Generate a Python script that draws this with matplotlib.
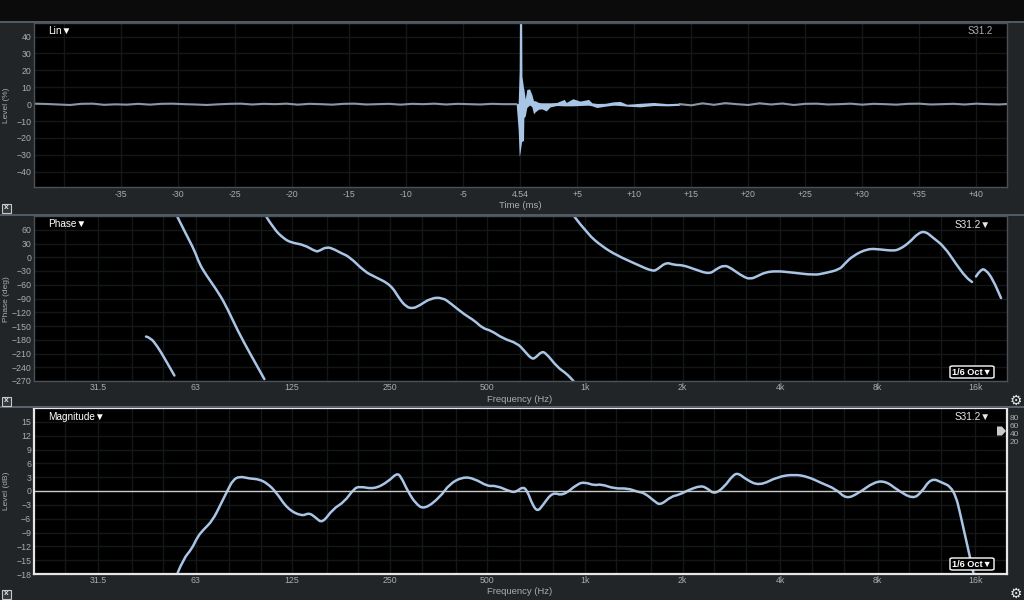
import matplotlib
matplotlib.use("Agg")
import matplotlib.pyplot as plt
from matplotlib.patches import Rectangle, FancyBboxPatch, Polygon, PathPatch
from matplotlib.path import Path

W, H = 1024, 600

# impulse, time relative to the 4.54 ms marker
imp_t = [-0.35, -0.18, -0.09, -0.06, 0, 0.12, 0.15, 0.29, 0.32, 0.44, 0.58, 0.82, 1.02, 1.17, 1.32, 1.61, 1.9,
         2.28, 2.63, 3.2, 3.86, 4.04, 4.62, 5.26, 5.99, 6.29, 6.73, 7.46, 8.19, 8.77, 9.36, 10.5, 11.7, 12.9, 14]
imp_hi = [0.3, 0.4, 20, 60, 60, 60, 16.5, 9.7, 9, 3, 8.7, 9, 5.7, 2, 2, 1, 0.8,
          0.8, 0.8, 1, 2.8, 1, 3.2, 1.8, 2.8, 0.8, 0.4, 0.5, 1.4, 1.6, -0.1, 0.5, 1, 0.3, 0.6]
imp_lo = [-0.3, -15, -30.5, -30.5, -28, -22, -22, -21.5, -8, -7, -2, -0.5, -1.5, -5.7, -4.5, -3, -2.8,
          -4, -1.6, -0.8, -1, -1, -1, -0.8, -0.6, -1, -2, -1.2, -0.6, -0.8, -1.2, -1.6, -0.8, -1, -0.7]

noise_before_t = [-42.6, -41.5, -40.5, -39.5, -38.5, -37.5, -36.5, -35.5, -34.5, -33.5, -32.5, -31.5, -30.5, -29.5,
                  -28.5, -27.5, -26.5, -25.5, -24.5, -23.5, -22.5, -21.5, -20.5, -19.5, -18.5, -17.5, -16.5, -15.5,
                  -14.5, -13.5, -12.5, -11.5, -10.5, -9.5, -8.5, -7.5, -6.5, -5.5, -4.5, -3.5, -2.5, -1.5, -0.35]
noise_before = [0.3, 0.1, -0.2, -0.5, 0.2, 0.3, -0.4, -0.1, -0.3, 0.2, -0.3, 0.2, 0.3, 0, -0.2, -0.5, -0.1,
                0.2, 0.3, -0.2, 0.2, 0, 0.3, -0.3, 0.2, 0, -0.3, 0.2, 0.3, -0.2, 0, 0.2, -0.3, 0.2, 0, 0.3,
                -0.2, 0.2, 0, -0.2, 0.2, 0, 0]
noise_after_t = [14, 15, 16, 17, 18, 19, 20, 21, 22, 23, 24, 25, 26, 27, 28, 29, 30, 31, 32, 33, 34, 35, 36, 37, 38,
                 39, 40, 41, 42, 42.7]
noise_after = [0, -0.7, 0.5, -0.4, 0.6, 0, -0.5, 0.5, -0.2, 0.4, -0.5, 0.2, 0.3, -0.2, 0, 0.3, -0.3, 0.2, 0, -0.3,
               0.2, 0.3, -0.2, 0, 0.2, -0.2, 0.3, 0, -0.2, 0.1]

# phase, wrapped pieces
ph_f1 = [44.3, 45.7, 48.1, 50.5, 52.7, 54.2]
ph_1 = [-173, -175, -195, -220, -243, -258]
ph_f2 = [55.2, 58.9, 62.5, 64.7, 67.8, 74.6, 79.1, 84.9, 93.4, 102.7]
ph_2 = [90, 50, 15, -14, -38, -80, -113, -160, -214, -266]
ph_f3 = [103.8, 110, 117.8, 124, 136.4, 148, 151.7, 160, 169, 177, 188, 209, 224, 252, 268, 281, 294, 308, 335, 364,
         386, 425, 456, 484, 514, 558, 620, 650, 687, 707, 732, 754, 825, 875, 922]
ph_3 = [90, 61, 41, 32, 27, 12, 14, 23, 17, 9, 1, -31, -42, -60, -91, -108, -112, -106, -89, -88,
        -101, -125, -138, -155, -160, -177, -188, -204, -223, -218, -207, -207, -241, -253, -270]
ph_f4 = [925, 1020, 1134, 1247, 1438, 1618, 1677, 1780, 1888, 2002, 2175, 2419, 2538, 2692, 2825, 3067, 3237, 3412,
         3594, 3886, 4322, 5100, 5470, 6090, 6310, 6697, 7453, 8178, 8899, 9326, 10010, 10630, 11190, 11830, 12840,
         13950, 14980, 15630]
ph_4 = [90, 50, 23, 5, -15, -31, -26, -11, -17, -17, -26, -37, -26, -17, -24, -42, -48, -41,
        -33, -30, -33, -39, -35, -27, -15, 3, 19, 17, 14, 17, 32, 52, 57, 43, 23,
        -15, -44, -54]
ph_f5 = [16070, 16660, 17270, 18100, 19200]
ph_5 = [-42, -25, -28, -48, -89]

mag_f = [55.5, 57.9, 61.3, 63.9, 66.6, 71.1, 75.4, 79.1, 82, 85.9, 92.2, 99, 105, 111.5, 121, 134, 141, 148, 155, 167,
         181, 194, 202, 224, 247, 263, 271, 284, 301, 320, 358, 382, 420, 456, 501, 532, 592, 613, 643, 663, 690, 715,
         741, 795, 854, 951, 1000, 1069, 1122, 1233, 1355, 1455, 1525, 1637, 1708, 1844, 1956, 2076, 2281, 2392, 2509,
         2692, 2857, 2972, 3140, 3452, 3933, 4425, 4870, 5351, 5948, 6389, 6942, 7812, 8489, 9226, 10260, 10880, 11690,
         12700, 13400, 13950, 14290, 14800, 15450, 15800]
mag_db = [-17.7, -14.6, -12.6, -9.9, -8.4, -6.4, -2.8, 0.15, 2.3, 3.2, 2.7, 2.55, 1.6, -0.2, -3.9, -5.5, -4.7, -5.8, -7,
          -3.9, -2.4, 0.5, 1, 0.4, 2, 3.9, 3.1, 0, -2.8, -4, -1.3, 1.5, 3.07, 2.7, 1, 1.2, -0.2, -0.2, 0.9, 0.15, -3.1,
          -4.45, -3.1, -0.2, -1.1, 1.6, 1.9, 1.2, 1.5, 0.5, 0.6, -0.2, -0.4, -2.2, -3.1, -1.2, -0.8, 0.15, 1.2, 0.5,
          -0.7, 0.9, 3.4, 3.9, 2.5, 1.1, 3.1, 3.6, 3.1, 1.75, 0.4, -1.7, -0.6, 2, 2.1, 0.15, -1.7, -0.4, 2.85,
          1.75, 1, -1.3, -4.2, -9, -14.8, -18]

time_ticks = [-35, -30, -25, -20, -15, -10, -5, 0, 5, 10, 15, 20, 25, 30, 35, 40]
time_labels = ["-35", "-30", "-25", "-20", "-15", "-10", "-5", "4.54", "+5", "+10", "+15", "+20", "+25", "+30", "+35", "+40"]
time_grid = [-40] + time_ticks
lin_ticks = [40, 30, 20, 10, 0, -10, -20, -30, -40]
phase_ticks = [60, 30, 0, -30, -60, -90, -120, -150, -180, -210, -240, -270]
mag_ticks = [15, 12, 9, 6, 3, 0, -3, -6, -9, -12, -15, -18]
freq_ticks = [31.5, 63, 125, 250, 500, 1000, 2000, 4000, 8000, 16000]
freq_labels = ["31.5", "63", "125", "250", "500", "1k", "2k", "4k", "8k", "16k"]
freq_grid = [25, 31.5, 40, 50, 63, 80, 100, 125, 160, 200, 250, 315, 400, 500, 630, 800, 1000, 1250, 1600, 2000,
             2500, 3150, 4000, 5000, 6300, 8000, 10000, 12500, 16000]
level_scale = ["80", "60", "40", "20"]

BG = "#212528"
GRID = "#141617"
TXT = "#a9adb0"
TRACE = "#a9c5e6"
plt.rcParams["font.family"] = ["Liberation Sans", "DejaVu Sans"]


def px_axes(fig, x0, y0, x1, y1):
    return fig.add_axes([x0 / W, 1 - y1 / H, (x1 - x0) / W, (y1 - y0) / H])


def ftext(fig, x, y, s, **kw):
    kw.setdefault("color", TXT)
    kw.setdefault("fontsize", 6.3)
    kw.setdefault("ha", "center")
    kw.setdefault("va", "center")
    fig.text(x / W, 1 - y / H, s, **kw)


def style(ax, edge="#4b5156", lw=1.0):
    ax.set_facecolor("black")
    for side, sp in ax.spines.items():
        sp.set_color(edge)
        sp.set_linewidth(lw)
    ax.tick_params(length=0, labelsize=6.3, labelcolor=TXT, pad=2)
    ax.set_axisbelow(True)


def freq_axis(ax, yticks, ylim):
    ax.set_xscale("log")
    ax.set_xlim(20, 20030)
    ax.set_ylim(*ylim)
    ax.set_xticks(freq_grid, minor=False)
    ax.set_xticklabels(["" for f in freq_grid])
    ax.minorticks_off()
    ax.set_yticks(yticks)
    ax.grid(True, color=GRID, lw=1)
    for f, lab in zip(freq_ticks, freq_labels):
        ax.annotate(lab, (f, 0), xycoords=("data", "axes fraction"), xytext=(0, -4.5), textcoords="offset points",
                    ha="center", va="center", fontsize=6.3, color=TXT, annotation_clip=False)


def smooth_trace(ax, fs, vals):
    # quadratic curve through the midpoints, the reference trace has no corners
    verts = [(fs[0], vals[0])]
    codes = [Path.MOVETO]
    for i in range(1, len(fs) - 1):
        mid = ((fs[i] * fs[i + 1]) ** 0.5, (vals[i] + vals[i + 1]) / 2)
        verts += [(fs[i], vals[i]), mid]
        codes += [Path.CURVE3, Path.CURVE3]
    verts.append((fs[-1], vals[-1]))
    codes.append(Path.LINETO)
    ax.add_patch(PathPatch(Path(verts, codes), fc="none", ec=TRACE, lw=1.8, capstyle="round", joinstyle="round"))


def oct_box(fig, y):
    fig.add_artist(FancyBboxPatch((950 / W, 1 - (y + 6) / H), 44 / W, 12 / H, boxstyle="round,pad=0,rounding_size=0.003",
                                  fc="black", ec="white", lw=1, transform=fig.transFigure, mutation_aspect=H / W))
    ftext(fig, 972, y, "1/6 Oct▼", color="white", fontsize=6.6, fontweight="bold")


def close_box(fig, y):
    fig.add_artist(Rectangle((2 / W, 1 - (y + 4.5) / H), 9 / W, 9 / H, fc="#33383c", ec="#c8c8c8", lw=0.8,
                             transform=fig.transFigure))
    ftext(fig, 6.5, y - 0.5, "x", color="#e0e0e0", fontsize=6, fontweight="bold")


fig = plt.figure(figsize=(W / 100, H / 100), dpi=100, facecolor=BG)
fig.add_artist(Rectangle((0, 1 - 21 / H), 1, 21 / H, fc="#0b0b0b", ec="none", transform=fig.transFigure))
for y in [22, 215]:
    fig.add_artist(Rectangle((0, 1 - (y + 1) / H), 1, 1.6 / H, fc="#4f5a64", ec="none", transform=fig.transFigure))
fig.add_artist(Rectangle((0, 1 - 408 / H), 1, 1.6 / H, fc="#59626a", ec="none", transform=fig.transFigure))

# impulse
ax1 = px_axes(fig, 34, 23, 1007, 187)
style(ax1)
ax1.set_xlim(-42.65, 42.7)
ax1.set_ylim(-49, 48)
ax1.set_xticks(time_grid)
ax1.set_xticklabels([""] + time_labels)
ax1.set_yticks(lin_ticks)
ax1.grid(True, color=GRID, lw=1)
ax1.plot(noise_before_t, noise_before, color="#8896a8", lw=1.5)
ax1.plot(noise_after_t, noise_after, color="#8896a8", lw=1.5)
ax1.fill_between(imp_t, imp_lo, imp_hi, color=TRACE, lw=0)

# phase
ax2 = px_axes(fig, 34, 216, 1007, 381)
style(ax2)
freq_axis(ax2, phase_ticks, (-270, 90))
for fs, vals in [(ph_f1, ph_1), (ph_f2, ph_2), (ph_f3, ph_3), (ph_f4, ph_4), (ph_f5, ph_5)]:
    smooth_trace(ax2, fs, vals)

# magnitude
ax3 = px_axes(fig, 34, 408, 1007, 574)
style(ax3, edge="#e6e6e6", lw=1.6)
freq_axis(ax3, mag_ticks, (-18, 18))
ax3.axhline(0, color="#c9c9c9", lw=1)
smooth_trace(ax3, mag_f, mag_db)

ftext(fig, 7, 105, "Level (%)", rotation=90, fontsize=6)
ftext(fig, 7, 299, "Phase (deg)", rotation=90, fontsize=6)
ftext(fig, 7, 491, "Level (dB)", rotation=90, fontsize=6)
ftext(fig, 520, 206, "Time (ms)", fontsize=6.8)
ftext(fig, 520, 399, "Frequency (Hz)", fontsize=6.8)
ftext(fig, 520, 592, "Frequency (Hz)", fontsize=6.8)

ftext(fig, 48, 31, "Lin▼", color="white", fontsize=7.2, ha="left")
ftext(fig, 48, 224, "Phase▼", color="white", fontsize=7.2, ha="left")
ftext(fig, 48, 417, "Magnitude▼", color="white", fontsize=7.2, ha="left")
ftext(fig, 993, 31, "S31.2", ha="right", fontsize=7)
ftext(fig, 991, 225, "S31.2▼", color="#e8e8e8", ha="right", fontsize=7.2)
ftext(fig, 991, 417, "S31.2▼", color="#e8e8e8", ha="right", fontsize=7.2)

oct_box(fig, 372)
oct_box(fig, 564)
for y in [208, 401, 594]:
    close_box(fig, y)
for y in [401, 594]:
    ftext(fig, 1016, y, "⚙", color="#e8e8e8", fontsize=10, family="DejaVu Sans")
for lab, y in zip(level_scale, [418, 426, 434, 442]):
    ftext(fig, 1014, y, lab, fontsize=6)
fig.add_artist(Polygon([(997 / W, 1 - 426.5 / H), (1002 / W, 1 - 426.5 / H), (1006 / W, 1 - 431 / H),
                        (1002 / W, 1 - 435.5 / H), (997 / W, 1 - 435.5 / H)], fc="#c9c9c9", ec="none",
                       transform=fig.transFigure))

fig.savefig("out.png", dpi=100, facecolor=fig.get_facecolor())
